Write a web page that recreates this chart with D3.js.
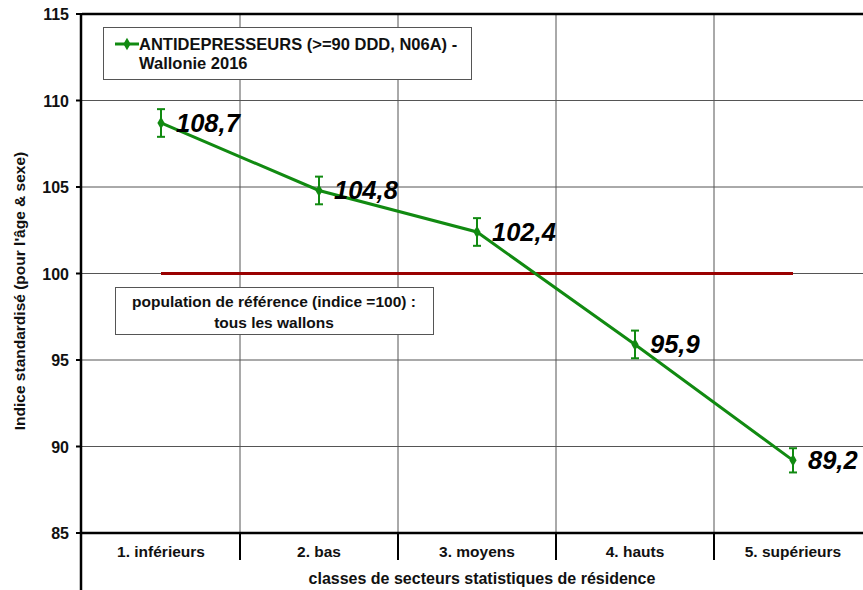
<!DOCTYPE html>
<html>
<head>
<meta charset="utf-8">
<script src="https://cdn.jsdelivr.net/npm/d3@7"></script>
<style>
  html, body { margin: 0; padding: 0; background: #fff; overflow: hidden; }
  svg { display: block; font-family: "Liberation Sans", Arial, sans-serif; }
</style>
</head>
<body>
<svg id="chart" width="863" height="590"></svg>
<script>
// Classes of statistical sectors (x categories)
const categories = ["1. inférieurs", "2. bas", "3. moyens", "4. hauts", "5. supérieurs"];
// Standardised index per class
const values = [108.7, 104.8, 102.4, 95.9, 89.2];
// Confidence interval bounds
const lower = [107.9, 104.0, 101.6, 95.1, 88.5];
const upper = [109.5, 105.6, 103.2, 96.7, 89.9];
// Value labels as printed
const valueLabels = ["108,7", "104,8", "102,4", "95,9", "89,2"];
// Y axis ticks
const yTicks = [85, 90, 95, 100, 105, 110, 115];
const refValue = 100;

const svg = d3.select("#chart");
const plotLeft = 82, plotRight = 872, plotTop = 14, plotBottom = 533;

const x = d3.scaleBand().domain(categories).range([plotLeft, plotRight]);
const y = d3.scaleLinear().domain([85, 115]).range([plotBottom, plotTop]);
const cx = d => x(d) + x.bandwidth() / 2;

const green = "#118a11";
const grid = "#555";

// Horizontal gridlines
svg.append("g").selectAll("line").data(yTicks.filter(t => t > 85 && t < 115)).join("line")
  .attr("x1", plotLeft).attr("x2", plotRight)
  .attr("y1", d => y(d)).attr("y2", d => y(d))
  .attr("stroke", grid).attr("stroke-width", 1);

// Vertical gridlines between categories
svg.append("g").selectAll("line").data(categories.slice(1)).join("line")
  .attr("x1", d => x(d)).attr("x2", d => x(d))
  .attr("y1", plotTop).attr("y2", plotBottom)
  .attr("stroke", grid).attr("stroke-width", 1);

// Top frame border
svg.append("line").attr("x1", plotLeft).attr("x2", plotRight)
  .attr("y1", y(115)).attr("y2", y(115))
  .attr("stroke", "#000").attr("stroke-width", 2.5);

// Category separators below the axis
svg.append("g").selectAll("line").data(categories.slice(1)).join("line")
  .attr("x1", d => x(d)).attr("x2", d => x(d))
  .attr("y1", plotBottom).attr("y2", 560)
  .attr("stroke", "#000").attr("stroke-width", 2);

// X axis line
svg.append("line").attr("x1", plotLeft).attr("x2", plotRight)
  .attr("y1", plotBottom).attr("y2", plotBottom)
  .attr("stroke", "#000").attr("stroke-width", 2.5);

// Category labels
svg.append("g").selectAll("text").data(categories).join("text")
  .attr("x", cx).attr("y", 557)
  .attr("text-anchor", "middle")
  .attr("font-size", 15.5).attr("font-weight", "bold").attr("fill", "#111")
  .text(d => d);

// X axis title
svg.append("text").attr("x", 482).attr("y", 584)
  .attr("text-anchor", "middle")
  .attr("font-size", 16).attr("font-weight", "bold").attr("fill", "#111")
  .text("classes de secteurs statistiques de résidence");

// Y axis line
svg.append("line").attr("x1", plotLeft - 1).attr("x2", plotLeft - 1)
  .attr("y1", plotTop - 1).attr("y2", 590)
  .attr("stroke", "#000").attr("stroke-width", 2.5);

// Y ticks and labels
const yAxis = svg.append("g");
yAxis.selectAll("line").data(yTicks).join("line")
  .attr("x1", plotLeft - 6).attr("x2", plotLeft)
  .attr("y1", d => y(d)).attr("y2", d => y(d))
  .attr("stroke", "#000").attr("stroke-width", 2);
yAxis.selectAll("text").data(yTicks).join("text")
  .attr("x", 69).attr("y", d => y(d) + 6)
  .attr("text-anchor", "end")
  .attr("font-size", 16).attr("font-weight", "bold").attr("fill", "#111")
  .text(d => d);

// Y axis title
svg.append("text")
  .attr("transform", "translate(25,291) rotate(-90)")
  .attr("text-anchor", "middle")
  .attr("font-size", 15.5).attr("font-weight", "bold").attr("fill", "#111")
  .text("Indice standardisé (pour l'âge & sexe)");

// Reference line at 100
svg.append("line")
  .attr("x1", cx(categories[0])).attr("x2", cx(categories[categories.length - 1]))
  .attr("y1", y(refValue)).attr("y2", y(refValue))
  .attr("stroke", "#990000").attr("stroke-width", 3);

// Reference note box
const note = svg.append("g");
note.append("rect").attr("x", 115.5).attr("y", 287.5).attr("width", 318).attr("height", 47)
  .attr("fill", "#fff").attr("stroke", "#555").attr("stroke-width", 1);
note.append("text").attr("x", 274).attr("y", 307)
  .attr("text-anchor", "middle").attr("font-size", 15.5).attr("font-weight", "bold").attr("fill", "#111")
  .text("population de référence (indice =100) :");
note.append("text").attr("x", 274).attr("y", 328)
  .attr("text-anchor", "middle").attr("font-size", 15.5).attr("font-weight", "bold").attr("fill", "#111")
  .text("tous les wallons");

// Series line
const line = d3.line().x((d, i) => cx(categories[i])).y(d => y(d));
svg.append("path").datum(values)
  .attr("d", line).attr("fill", "none")
  .attr("stroke", green).attr("stroke-width", 3);

// Error bars
const eb = svg.append("g").attr("stroke", green).attr("stroke-width", 2);
categories.forEach((c, i) => {
  const px = cx(c);
  eb.append("line").attr("x1", px).attr("x2", px).attr("y1", y(lower[i])).attr("y2", y(upper[i]));
  eb.append("line").attr("x1", px - 4).attr("x2", px + 4).attr("y1", y(lower[i])).attr("y2", y(lower[i]));
  eb.append("line").attr("x1", px - 4).attr("x2", px + 4).attr("y1", y(upper[i])).attr("y2", y(upper[i]));
});

// Diamond markers
svg.append("g").selectAll("path").data(values).join("path")
  .attr("transform", (d, i) => `translate(${cx(categories[i])},${y(d)})`)
  .attr("d", d3.symbol(d3.symbolDiamond, 45)())
  .attr("fill", green);

// Value labels
svg.append("g").selectAll("text").data(values).join("text")
  .attr("x", (d, i) => cx(categories[i]) + 15)
  .attr("y", d => y(d) + 9)
  .attr("font-size", 25.5).attr("font-weight", "bold").attr("font-style", "italic").attr("fill", "#000")
  .text((d, i) => valueLabels[i]);

// Legend box
const lg = svg.append("g");
lg.append("rect").attr("x", 103.5).attr("y", 27.5).attr("width", 368).attr("height", 52)
  .attr("fill", "#fff").attr("stroke", "#555").attr("stroke-width", 1);
lg.append("line").attr("x1", 115).attr("x2", 139).attr("y1", 44).attr("y2", 44)
  .attr("stroke", green).attr("stroke-width", 3);
lg.append("path").attr("transform", "translate(127,44)")
  .attr("d", d3.symbol(d3.symbolDiamond, 45)()).attr("fill", green);
lg.append("text").attr("x", 139).attr("y", 50)
  .attr("font-size", 16.5).attr("font-weight", "bold").attr("fill", "#111")
  .text("ANTIDEPRESSEURS (>=90 DDD, N06A) -");
lg.append("text").attr("x", 139).attr("y", 69)
  .attr("font-size", 16.5).attr("font-weight", "bold").attr("fill", "#111")
  .text("Wallonie 2016");
</script>
</body>
</html>
